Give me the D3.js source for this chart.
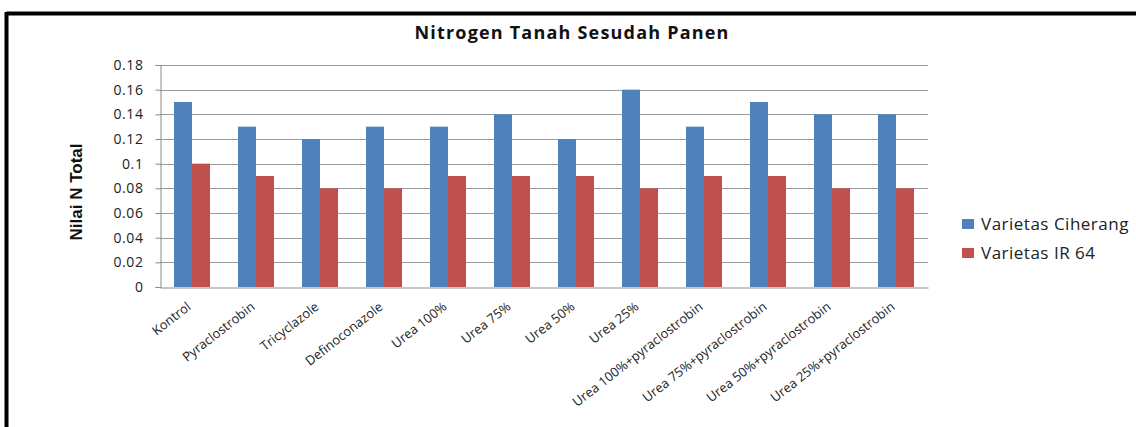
<!DOCTYPE html>
<html><head><meta charset="utf-8">
<script src="https://cdn.jsdelivr.net/npm/d3@7"></script>
<style>body{margin:0;background:#fff}svg{display:block}</style>
</head><body>
<script>
const categories = ["Kontrol","Pyraclostrobin","Tricyclazole","Definoconazole","Urea 100%","Urea 75%","Urea 50%","Urea 25%","Urea 100%+pyraclostrobin","Urea 75%+pyraclostrobin","Urea 50%+pyraclostrobin","Urea 25%+pyraclostrobin"];
const seriesNames = ["Varietas Ciherang","Varietas IR 64"];
const ciherang = [0.15,0.13,0.12,0.13,0.13,0.14,0.12,0.16,0.13,0.15,0.14,0.14];
const ir64 = [0.10,0.09,0.08,0.08,0.09,0.09,0.09,0.08,0.09,0.09,0.08,0.08];
const yTicks = [0,0.02,0.04,0.06,0.08,0.1,0.12,0.14,0.16,0.18];
const colors = ["#4F81BD","#C0504D"];

const W=1136,H=427;
const svg=d3.select("body").append("svg").attr("width",W).attr("height",H);
svg.append("rect").attr("width",W).attr("height",H).attr("fill","#fff");
// frame
svg.append("line").attr("x1",6.5).attr("x2",W).attr("y1",13.5).attr("y2",13.5).attr("stroke","#000").attr("stroke-width",4);
svg.append("line").attr("x1",6.5).attr("x2",6.5).attr("y1",12).attr("y2",H).attr("stroke","#000").attr("stroke-width",4);

const font="'Open Sans', sans-serif";
svg.append("text").attr("x",572).attr("y",39).attr("text-anchor","middle")
  .attr("font-family",font).attr("font-weight","bold").attr("font-size",18).attr("letter-spacing",1.2).attr("fill","#111")
  .text("Nitrogen Tanah Sesudah Panen");

const x0=d3.scaleBand().domain(categories).range([160,928]);
const x1=d3.scaleBand().domain(seriesNames).range([14,50]);
const y=d3.scaleLinear().domain([0,0.18]).range([287,65]);

// gridlines
svg.append("g").selectAll("line").data(yTicks.filter(d=>d>0)).join("line")
  .attr("x1",160).attr("x2",928).attr("y1",d=>Math.round(y(d))+0.5).attr("y2",d=>Math.round(y(d))+0.5)
  .attr("stroke","#9a9a9a").attr("stroke-width",1);

// bars
const data=[ciherang,ir64];
categories.forEach((c,i)=>{
  seriesNames.forEach((s,j)=>{
    svg.append("rect").attr("x",x0(c)+x1(s)).attr("width",x1.bandwidth())
      .attr("y",y(data[j][i])).attr("height",y(0)-y(data[j][i])).attr("fill",colors[j]);
  });
});

// y axis
const yAxis=d3.axisLeft(y).tickValues(yTicks).tickSize(5).tickPadding(12).tickFormat(d=>d===0?"0":String(+d.toFixed(2)));
const ga=svg.append("g").attr("transform","translate(160.5,0)").call(yAxis);
ga.select(".domain").attr("stroke","#8a8a8a");
ga.selectAll(".tick line").attr("stroke","#8a8a8a");
ga.selectAll(".tick text").attr("font-family",font).attr("font-size",14).attr("letter-spacing",0.6).attr("fill","#222");

// x axis
const xAxis=d3.axisBottom(x0).tickSize(0).tickPadding(8);
const gx=svg.append("g").attr("transform","translate(0,287.5)").call(xAxis);
gx.select(".domain").attr("stroke","#8a8a8a");
gx.selectAll(".tick text").attr("font-family",font).attr("font-size",13).attr("fill","#222")
  .attr("text-anchor","end").attr("dy","0.35em").attr("transform","translate(-8,11) rotate(-38)");

// y title
svg.append("text").attr("transform","translate(82,192) rotate(-90)").attr("text-anchor","middle")
  .attr("font-family","'Liberation Sans Narrow','Liberation Sans',sans-serif").attr("font-weight","bold").attr("font-size",17).attr("fill","#111")
  .text("Nilai N Total");

// legend
const lg=svg.append("g");
seriesNames.forEach((s,j)=>{
  lg.append("rect").attr("x",962).attr("y",219+j*29).attr("width",12).attr("height",10).attr("fill",colors[j]);
  lg.append("text").attr("x",981).attr("y",230+j*29).attr("font-family",font).attr("font-size",17).attr("letter-spacing",0.5).attr("fill","#222").text(s);
});
</script>
</body></html>
